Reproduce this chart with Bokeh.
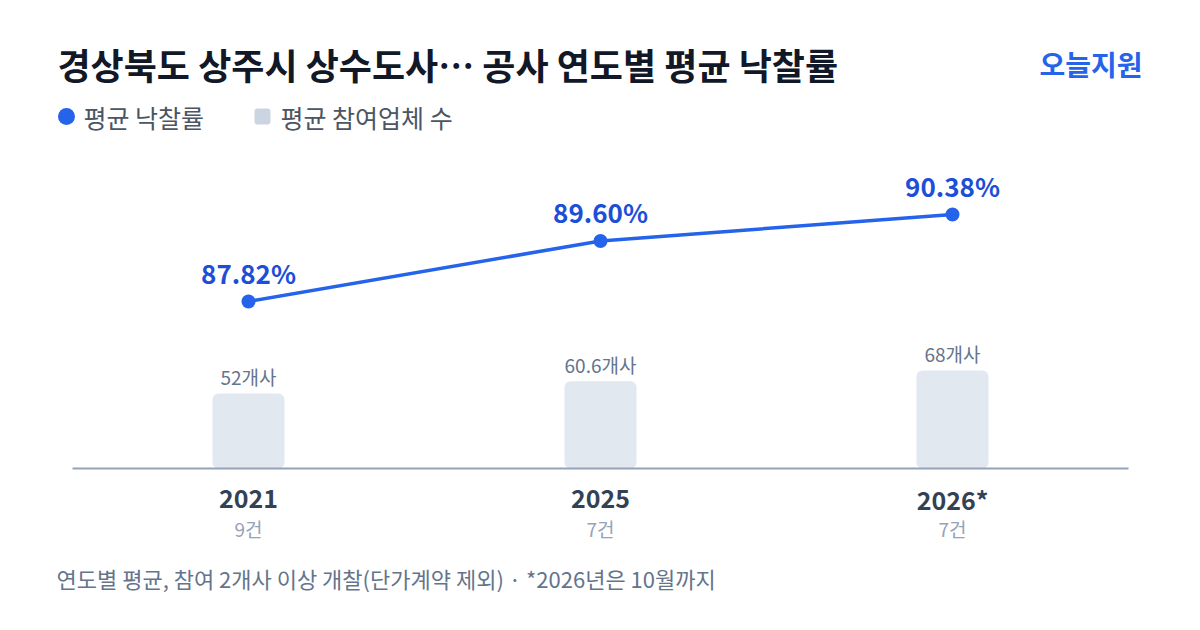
from bokeh.plotting import figure
from bokeh.models import Range1d, Label, ColumnDataSource
from bokeh.embed import file_html
from bokeh.resources import INLINE

# ---- data ----
years = ["2021", "2025", "2026*"]
counts = ["9건", "7건", "7건"]
rates = [87.82, 89.60, 90.38]
rate_labels = ["87.82%", "89.60%", "90.38%"]
bidders = [52, 60.6, 68]
bidder_labels = ["52개사", "60.6개사", "68개사"]

title_text = "경상북도 상주시 상수도사… 공사 연도별 평균 낙찰률"
brand_text = "오늘지원"
legend_rate = "평균 낙찰률"
legend_bid = "평균 참여업체 수"
footnote = "연도별 평균, 참여 2개사 이상 개찰(단가계약 제외) · *2026년은 10월까지"

FONT = "'Noto Sans CJK KR', 'Noto Sans', sans-serif"
BLUE = "#2563eb"
BLUE_DARK = "#1d4ed8"
BAR = "#e2e8f0"

xs = list(range(len(years)))
src = ColumnDataSource(dict(x=xs, rate=rates, bid=bidders))

W, H = 1200, 630
px_per_cat = 352.0
first_center = 248.0
x_start = -first_center / px_per_cat
x_end = (len(years) - 1) + (W - (first_center + (len(years) - 1) * px_per_cat)) / px_per_cat

base_from_bottom = H - 468
bar_scale = 1.44
rate_scale = 34.0
rate_anchor_from_bottom = H - 301

p = figure(width=W, height=H, output_backend="svg", toolbar_location=None,
           x_range=Range1d(x_start, x_end),
           y_range=Range1d(-base_from_bottom / bar_scale, (H - base_from_bottom) / bar_scale),
           x_axis_location=None, y_axis_location=None, min_border=0,
           outline_line_color=None, background_fill_color="white", border_fill_color="white")
p.grid.visible = False
r0 = rates[0] - rate_anchor_from_bottom / rate_scale
p.extra_y_ranges = {"rate": Range1d(r0, r0 + H / rate_scale)}

# bars
p.vbar(x="x", top="bid", bottom=0, width=72 / px_per_cat, source=src,
       fill_color=BAR, line_color=None, border_radius=6)

# baseline
p.segment(x0=[-0.5], x1=[len(years) - 0.5], y0=[0], y1=[0], line_color="#94a3b8", line_width=2)

# line + points
p.line(x="x", y="rate", source=src, y_range_name="rate", line_color=BLUE, line_width=3.5)
p.scatter(x="x", y="rate", source=src, y_range_name="rate", size=14,
          fill_color=BLUE, line_color=None)

def lab(text, x, y, size, color, bold=False, align="center", x_units="data", y_units="data",
        y_range_name="default", y_offset=0):
    p.add_layout(Label(x=x, y=y, x_units=x_units, y_units=y_units, text=text,
                       y_range_name=y_range_name, y_offset=y_offset,
                       text_align=align, text_baseline="middle", text_font=FONT,
                       text_font_size=size, text_color=color,
                       text_font_style="bold" if bold else "normal"))

for i in xs:
    lab(rate_labels[i], i, rates[i], "26px", BLUE_DARK, bold=True, y_range_name="rate", y_offset=29)
    lab(bidder_labels[i], i, bidders[i], "19px", "#64748b", y_offset=17)
    lab(years[i], i, H - 498, "25px", "#334155", bold=True, y_units="screen")
    lab(counts[i], i, H - 528, "19px", "#94a3b8", y_units="screen")

def scr_label(text, x, y, size, color, bold=False, align="left"):
    lab(text, x, H - y, size, color, bold=bold, align=align, x_units="screen", y_units="screen")

scr_label(title_text, 57, 63, "36px", "#111827", bold=True)
scr_label(brand_text, 1142, 63, "28px", BLUE, bold=True, align="right")
scr_label(legend_rate, 83, 116, "25px", "#4b5563")
scr_label(legend_bid, 280, 116, "25px", "#4b5563")
scr_label(footnote, 56, 577, "22px", "#64748b")

# legend markers
leg_y = -base_from_bottom / bar_scale + (H - 116) / bar_scale
p.scatter(x=[x_start + 66 / px_per_cat], y=[leg_y], size=17, fill_color=BLUE, line_color=None)
p.rect(x=[x_start + 262 / px_per_cat], y=[leg_y], width=16, height=16,
       width_units="screen", height_units="screen", fill_color="#cbd5e1", line_color=None,
       border_radius=3)

open("out.html", "w").write(file_html(p, INLINE))
